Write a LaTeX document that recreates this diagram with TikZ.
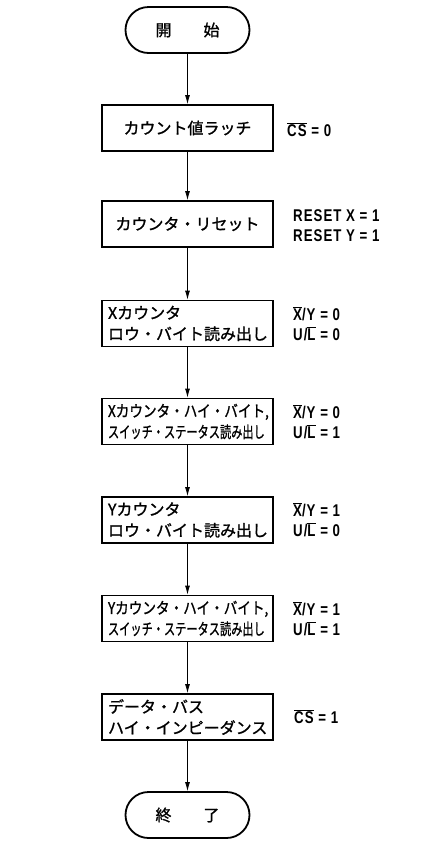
\documentclass[tikz,border=0pt]{standalone}
\usepackage{fontspec}
\setmainfont{Noto Sans CJK JP}[FakeBold=1.2]
\newfontfamily\flagfont[FakeStretch=0.78,LetterSpace=6]{Liberation Sans}
\usetikzlibrary{arrows.meta}
\newcommand{\ovl}[1]{$\overline{\mbox{#1}}$}
\newcommand{\squeeze}[2]{\scalebox{#1}[1]{#2}}

\begin{document}
\begin{tikzpicture}[x=1pt,y=-1pt,
terminal/.style={draw,line width=1.8pt,rounded corners=23pt,minimum width=124pt,minimum height=46pt,inner sep=0pt},
process/.style={draw,line width=1.8pt,minimum width=171pt,minimum height=46pt,inner sep=0pt},
listing/.style={process,text width=159pt,align=left},
flag/.style={anchor=west,font={\flagfont\bfseries\fontsize{17pt}{20pt}\selectfont},align=left,inner sep=0pt},
flow/.style={-{Latex[length=9pt,width=5pt]},line width=0.8pt},
font={\fontsize{16pt}{21pt}\selectfont}
]
\useasboundingbox (0,0) rectangle (427,847);

\node[terminal] (start) at (187.5,30) {開\hspace{2em}始};
\node[process] (latch) at (187.5,128) {カウント値ラッチ};
\node[process] (reset) at (187.5,224) {カウンタ・リセット};
\node[listing] (xlow) at (187.5,323.5) {Xカウンタ\\ロウ・バイト読み出し};
\node[listing] (xhigh) at (187.5,421.5) {\squeeze{0.85}{Xカウンタ・ハイ・バイト,}\\\squeeze{0.7}{スイッチ・ステータス読み出し}};
\node[listing] (ylow) at (187.5,520) {Yカウンタ\\ロウ・バイト読み出し};
\node[listing] (yhigh) at (187.5,618.5) {\squeeze{0.85}{Yカウンタ・ハイ・バイト,}\\\squeeze{0.7}{スイッチ・ステータス読み出し}};
\node[listing] (hiz) at (187.5,717) {データ・バス\\ハイ・インピーダンス};
\node[terminal] (stop) at (187.5,815) {終\hspace{2em}了};

\foreach \a/\b in {start/latch,latch/reset,reset/xlow,xlow/xhigh,xhigh/ylow,ylow/yhigh,yhigh/hiz,hiz/stop}
  \draw[flow] (\a.south) -- (\b.north);

% control lines
\node[flag] (cs0) at (287,130) {\ovl{CS} = 0};
\node[flag] (rst) at (293,226) {RESET X = 1\\RESET Y = 1};
\node[flag] (fxl) at (293,323.5) {\ovl{X}/Y = 0\\U/\ovl{L} = 0};
\node[flag] (fxh) at (293,421.5) {\ovl{X}/Y = 0\\U/\ovl{L} = 1};
\node[flag] (fyl) at (293,520) {\ovl{X}/Y = 1\\U/\ovl{L} = 0};
\node[flag] (fyh) at (293,618.5) {\ovl{X}/Y = 1\\U/\ovl{L} = 1};
\node[flag] (cs1) at (294,717) {\ovl{CS} = 1};
\end{tikzpicture}
\end{document}
